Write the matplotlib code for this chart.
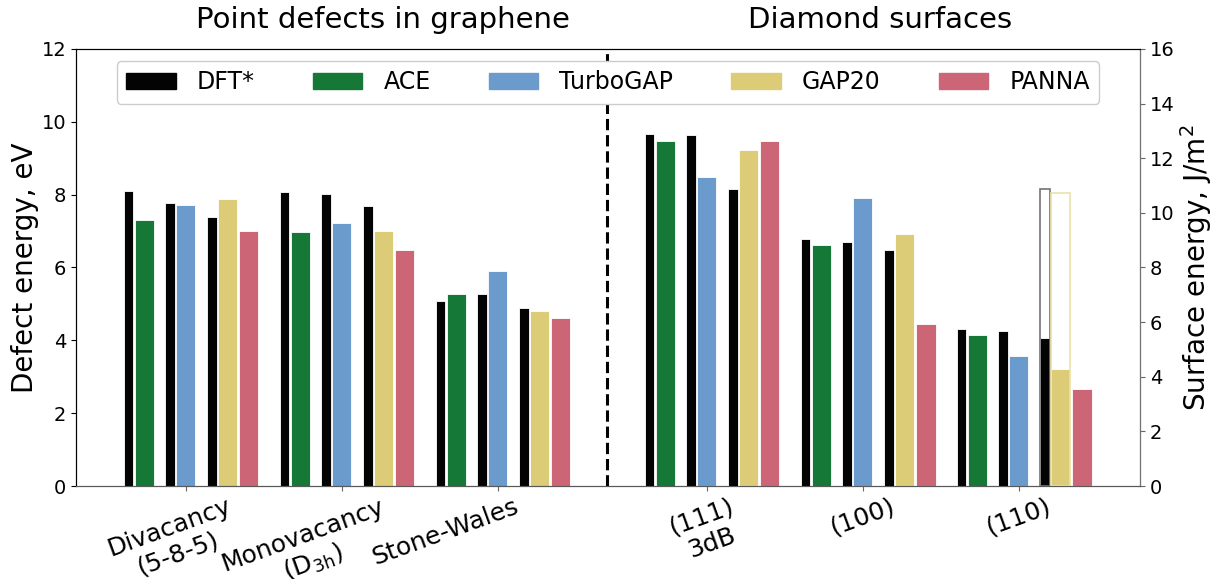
import matplotlib
matplotlib.use("Agg")
import matplotlib.pyplot as plt
from matplotlib.transforms import ScaledTranslation

# categories
graphene_labels = ["Divacancy\n(5-8-5)", "Monovacancy\n(D$_{3\\mathrm{h}}$)", "Stone-Wales"]
diamond_labels = ["(111)\n3dB", "(100)", "(110)"]

# defect energies, eV (left axis)
g_dft_ace = [8.09, 8.06, 5.07]
g_ace = [7.30, 6.97, 5.27]
g_dft_turbo = [7.77, 8.01, 5.27]
g_turbo = [7.72, 7.22, 5.90]
g_dft_gap20 = [7.39, 7.68, 4.89]
g_gap20 = [7.88, 7.00, 4.80]
g_panna = [7.00, 6.48, 4.60]

# surface energies, J/m^2 (right axis)
d_dft_ace = [12.90, 9.03, 5.75]
d_ace = [12.63, 8.82, 5.53]
d_dft_turbo = [12.86, 8.95, 5.68]
d_turbo = [11.33, 10.56, 4.76]
d_dft_gap20 = [10.87, 8.64, 5.43]
d_gap20 = [12.29, 9.23, 4.30]
d_panna = [12.63, 5.92, 3.54]
# unrelaxed (110) values, drawn as empty bars
d110_dft_unrelaxed = 10.89
d110_gap20_unrelaxed = 10.73

c_dft = "#030303"
c_ace = "#167837"
c_turbo = "#6a9bcc"
c_gap20 = "#ddcc77"
c_panna = "#cc6677"

g_x = [0, 1, 2]
d_x = [3.34, 4.34, 5.34]
wm = 0.125   # model bar width
wd = 0.06    # DFT bar width
off = {"ace": -0.265, "turbo": 0.0, "gap20": 0.269, "panna": 0.404}
dshift = -0.1

fig = plt.figure(figsize=(12.14, 5.79), dpi=100)
ax1 = fig.add_axes([0.0626, 0.1606, 0.8764, 0.7548])
ax2 = ax1.twinx()

kw = dict(edgecolor="white", linewidth=0.6)


def draw(ax, xs, dft_ace, ace, dft_turbo, turbo, dft_gap20, gap20, panna):
    ax.bar([x + off["ace"] + dshift for x in xs], dft_ace, wd, color=c_dft, **kw)
    ax.bar([x + off["ace"] for x in xs], ace, wm, color=c_ace, **kw)
    ax.bar([x + off["turbo"] + dshift for x in xs], dft_turbo, wd, color=c_dft, **kw)
    ax.bar([x + off["turbo"] for x in xs], turbo, wm, color=c_turbo, **kw)
    ax.bar([x + off["gap20"] + dshift for x in xs], dft_gap20, wd, color=c_dft, **kw)
    ax.bar([x + off["gap20"] for x in xs], gap20, wm, color=c_gap20, **kw)
    ax.bar([x + off["panna"] for x in xs], panna, wm, color=c_panna, **kw)


draw(ax1, g_x, g_dft_ace, g_ace, g_dft_turbo, g_turbo, g_dft_gap20, g_gap20, g_panna)
draw(ax2, d_x, d_dft_ace, d_ace, d_dft_turbo, d_turbo, d_dft_gap20, d_gap20, d_panna)

# empty outline bars for (110)
ax2.bar(d_x[2] + off["gap20"] + dshift, d110_dft_unrelaxed, wd, fill=False,
        edgecolor="0.45", linewidth=1.2)
ax2.bar(d_x[2] + off["gap20"], d110_gap20_unrelaxed, wm, fill=False,
        edgecolor="#ece2a8", linewidth=1.2)

ax1.axvline(2.70, color="black", ls="--", lw=2.2)

ax1.set_xlim(-0.703, 6.117)
ax1.set_ylim(0, 12)
ax2.set_ylim(0, 16)
ax1.set_yticks(range(0, 13, 2))
ax2.set_yticks(range(0, 17, 2))
ax1.tick_params(axis="y", labelsize=14)
ax2.tick_params(axis="y", labelsize=14, color="0.4")
ax1.tick_params(axis="x", color="0.4", pad=2.5)

ax1.set_xticks(g_x + d_x)
ax1.set_xticklabels(graphene_labels + diamond_labels, rotation=20,
                    fontsize=18, ha="center", multialignment="center")
shifts = [-12, -33, -52, 0, 0, 0]
for lab, s in zip(ax1.get_xticklabels(), shifts):
    lab.set_transform(lab.get_transform() + ScaledTranslation(s / 100, 0, fig.dpi_scale_trans))

ax1.set_ylabel("Defect energy, eV", fontsize=20, labelpad=2)
ax2.set_ylabel("Surface energy, J/m$^2$", fontsize=20, labelpad=3)

ax2.spines["right"].set_color("0.45")
ax1.spines["bottom"].set_color("0.35")
ax2.spines["bottom"].set_color("0.35")

ax1.text(1.265, 1.066, "Point defects in graphene", fontsize=21,
         ha="center", va="center", transform=ax1.get_xaxis_transform())
ax1.text(4.45, 1.066, "Diamond surfaces", fontsize=21,
         ha="center", va="center", transform=ax1.get_xaxis_transform())

handles = [plt.Rectangle((0, 0), 1, 1, color=c) for c in [c_dft, c_ace, c_turbo, c_gap20, c_panna]]
ax2.legend(handles, ["DFT*", "ACE", "TurboGAP", "GAP20", "PANNA"], loc="upper center",
           ncol=5, fontsize=17, handlelength=2.1, handletextpad=0.9,
           columnspacing=2.45, framealpha=1)

fig.savefig("out.png", dpi=100)
